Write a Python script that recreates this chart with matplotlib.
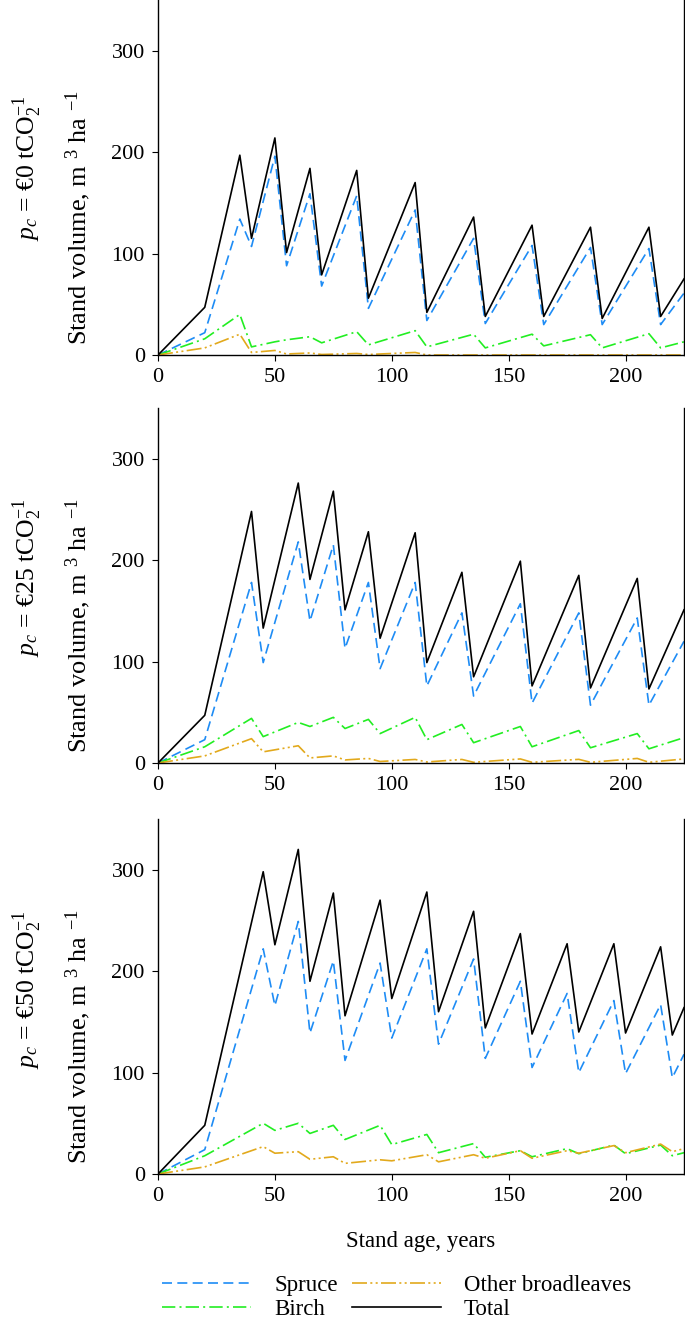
import matplotlib
matplotlib.use("Agg")
import matplotlib.pyplot as plt

plt.rcParams['font.family'] = ['Liberation Serif', 'DejaVu Serif']
plt.rcParams['mathtext.fontset'] = 'custom'
plt.rcParams['mathtext.rm'] = 'Liberation Serif'
plt.rcParams['mathtext.it'] = 'Liberation Serif:italic'
plt.rcParams['font.size'] = 16

# ---------------- data ----------------
# Panel 1: p_c = 0
age_0 = [0, 20, 35, 40, 50, 55, 65, 70, 85, 90, 110, 115, 135, 140, 160, 165, 185, 190, 210, 215, 225]
spruce_0 = [0, 22, 134, 107, 196, 88, 159, 68, 157, 46, 143, 34, 115, 31, 108, 30, 106, 30, 105, 30, 61]
birch_0 = [0, 16, 40, 8, 13, 15, 18, 12, 23, 10, 24, 8, 20.5, 7, 20.5, 9, 20, 7, 21, 7, 13]
other_0 = [0, 7, 20.5, 2.5, 4.5, 1, 2, 0.5, 1.5, 0.5, 2.5, 0, 0, 0, 0, 0, 0, 0, 0, 0, 0]
total_0 = [0, 47, 197, 115, 214, 101, 184, 79, 182, 56, 170, 42, 136, 38, 128, 38, 126, 36, 126, 38, 75]

# Panel 2: p_c = 25
age_25 = [0, 20, 40, 45, 60, 65, 75, 80, 90, 95, 110, 115, 130, 135, 155, 160, 180, 185, 205, 210, 225]
spruce_25 = [0, 23, 178, 99, 218, 140, 215, 113, 178, 93, 178, 76, 148, 66, 157, 59, 148, 57, 143, 57, 120]
birch_25 = [0, 16, 44, 26, 40, 36, 45, 34, 43, 29, 45, 23, 38, 20, 36, 16, 32, 15, 29, 14, 25]
other_25 = [0, 7, 24, 11, 17, 5, 7, 3, 4.5, 1.5, 3.5, 1, 3.5, 0.7, 4, 0.7, 3.6, 0.7, 4.5, 0.7, 4]
total_25 = [0, 47, 248, 133, 276, 181, 268, 151, 228, 123, 227, 99, 188, 85, 199, 76, 185, 74, 182, 73, 151]

# Panel 3: p_c = 50
age_50 = [0, 20, 45, 50, 60, 65, 75, 80, 95, 100, 115, 120, 135, 140, 155, 160, 175, 180, 195, 200, 215, 220, 225]
spruce_50 = [0, 24, 222, 166, 249, 139, 210, 112, 208, 134, 222, 128, 212, 114, 190, 105, 178, 100, 171, 99, 167, 95, 118]
birch_50 = [0, 18, 50, 43, 50, 40, 48, 34, 48, 29, 39, 21, 30, 16.5, 23, 17, 25, 20, 28.5, 20, 28.5, 18, 21]
other_50 = [0, 7, 27, 20.5, 22, 14.5, 17, 10.5, 14, 13, 19, 12, 19, 15.5, 23, 15.5, 23, 20.5, 28, 21, 29.5, 22, 25]
total_50 = [0, 48, 298, 226, 320, 190, 277, 156, 270, 173, 278, 160, 259, 144, 237, 138, 227, 140, 227, 139, 224, 137, 164]

panel_labels = ["$p_c$ = €0 tCO$_2^{-1}$", "$p_c$ = €25 tCO$_2^{-1}$", "$p_c$ = €50 tCO$_2^{-1}$"]
series_names = ["Spruce", "Birch", "Other broadleaves", "Total"]
y_label = "Stand volume, m $^3$ ha $^{-1}$"
x_label = "Stand age, years"
x_ticks = [0, 50, 100, 150, 200]
y_ticks = [0, 100, 200, 300]

panels = [
    (age_0, spruce_0, birch_0, other_0, total_0),
    (age_25, spruce_25, birch_25, other_25, total_25),
    (age_50, spruce_50, birch_50, other_50, total_50),
]

# ---------------- figure ----------------
W, H = 685, 1323
fig = plt.figure(figsize=(W / 100, H / 100), dpi=100)

ax_left, ax_right = 158, 684
ax_px = [(0, 355), (408, 763), (819, 1174)]
ylab_centers = [217, 625, 1036]
pc_centers = [168, 578, 990]

c_spruce = '#1E8CF5'
c_birch = '#22EE22'
c_other = '#E2A91C'
c_total = '#000000'
lw = 1.2

handles = None
for i, (age, spr, bir, oth, tot) in enumerate(panels):
    top, bot = ax_px[i]
    ax = fig.add_axes([ax_left / W, 1 - bot / H, (ax_right - ax_left) / W, (bot - top) / H])
    l1, = ax.plot(age, spr, color=c_spruce, lw=lw, dashes=(6, 3.2))
    l2, = ax.plot(age, bir, color=c_birch, lw=lw, dashes=(8, 2.5, 1.2, 2.5))
    l3, = ax.plot(age, oth, color=c_other, lw=lw, dashes=(9, 2, 1.2, 2, 1.2, 2))
    l4, = ax.plot(age, tot, color=c_total, lw=lw)
    handles = [l1, l2, l3, l4]
    ax.set_xlim(0, 225)
    ax.set_ylim(0, 350)
    ax.set_xticks(x_ticks)
    ax.set_yticks(y_ticks)
    ax.spines['top'].set_visible(False)
    for s in ['left', 'bottom', 'right']:
        ax.spines[s].set_linewidth(1.0)
    ax.tick_params(direction='out', length=4.5, width=0.8, labelsize=16, pad=5)
    fig.text(78 / W, 1 - ylab_centers[i] / H, y_label, rotation=90,
             ha='center', va='center', fontsize=19)
    fig.text(27 / W, 1 - pc_centers[i] / H, panel_labels[i], rotation=90,
             ha='center', va='center', fontsize=18.5)

fig.text(421 / W, 1 - 1242 / H, x_label, ha='center', va='center', fontsize=16.5)

fig.legend(handles, series_names, ncol=2, frameon=False, loc='upper left',
           bbox_to_anchor=(162 / W, 1 - 1275 / H), borderaxespad=0, borderpad=0,
           handlelength=3.9, handletextpad=1.0, columnspacing=0.6,
           labelspacing=0.12, fontsize=16.5)

fig.savefig("out.png", dpi=100)
